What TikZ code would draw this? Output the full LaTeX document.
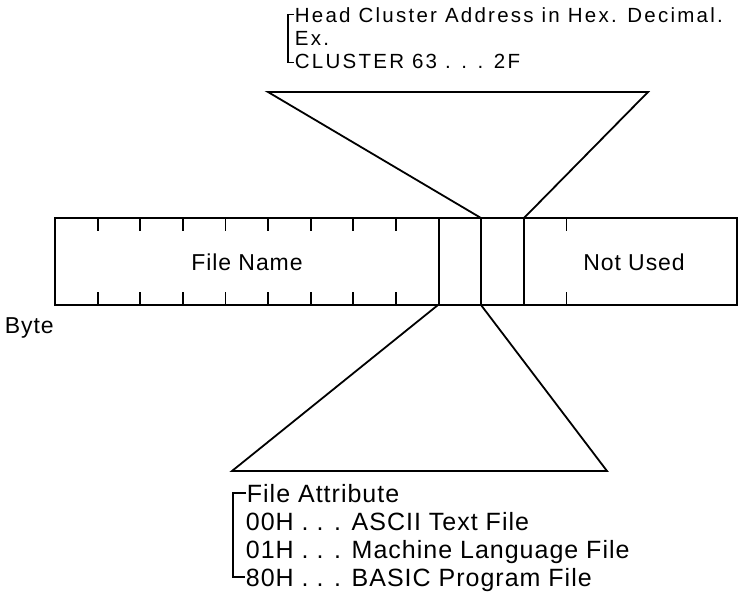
\documentclass[tikz,border=0pt]{standalone}
\usepackage{fontspec}
\setmainfont[LetterSpace=4]{Liberation Sans}
\newfontfamily\headfont[LetterSpace=11]{Liberation Sans}
\tikzset{
  txt/.style={inner sep=0pt,text height=16.5pt,text depth=0pt,font=\fontsize{23}{23}\selectfont},
  htxt/.style={anchor=north west,inner sep=0pt,align=left,font=\headfont\fontsize{20.5}{23}\selectfont},
  atxt/.style={anchor=west,inner sep=0pt,text height=18pt,text depth=0pt,font=\fontsize{25}{25}\selectfont},
}
\begin{document}
\begin{tikzpicture}[x=1pt,y=-1pt,line width=1.8pt]
  \useasboundingbox (0,0) rectangle (742,594);
  % directory entry, 16 bytes
  \draw (55,218) rectangle (737,305);
  \foreach \b in {1,...,8,12,...,15} {%
    \draw (55+\b*42.625,218) -- ++(0,13);
    \draw (55+\b*42.625,305) -- ++(0,-13);
  }
  \foreach \b in {9,10,11}
    \draw (55+\b*42.625,218) -- (55+\b*42.625,305);
  \node[txt] (fname) at (247,262) {File Name};
  \node[txt] (unused) at (634,262) {Not Used};
  \node[txt,anchor=west] (byte) at (4,325) {Byte};

  % head cluster byte
  \coordinate (clus1) at (481,218);
  \coordinate (clus2) at (524,218);
  \coordinate (hc1) at (268,92);
  \coordinate (hc2) at (648,92);
  \draw (clus1) -- (hc1) -- (hc2) -- (clus2);
  \node[htxt] (head) at (294,7) {Head Cluster Address in Hex. Decimal.\\Ex.\\CLUSTER 63 . . . 2F};
  \draw[line width=1.4pt] ([yshift=-7.5pt]head.north west) -- ++(-6,0)
    |- ([yshift=7.5pt]head.south west);

  % attribute byte
  \coordinate (fa1) at (438,305);
  \coordinate (fa2) at (481,305);
  \coordinate (at1) at (232,471);
  \coordinate (at2) at (607,471);
  \draw (fa1) -- (at1) -- (at2) -- (fa2);
  \node[atxt] (fatt) at (246,493) {File Attribute};
  \node[atxt] (ascii) at (245,521) {00H . . . ASCII Text File};
  \node[atxt] (mach) at (245,549) {01H . . . Machine Language File};
  \node[atxt] (basic) at (245,577) {80H . . . BASIC Program File};
  \draw[line width=1.4pt] (fatt.west) -- ++(-13,0) |- (basic.west);
\end{tikzpicture}
\end{document}
